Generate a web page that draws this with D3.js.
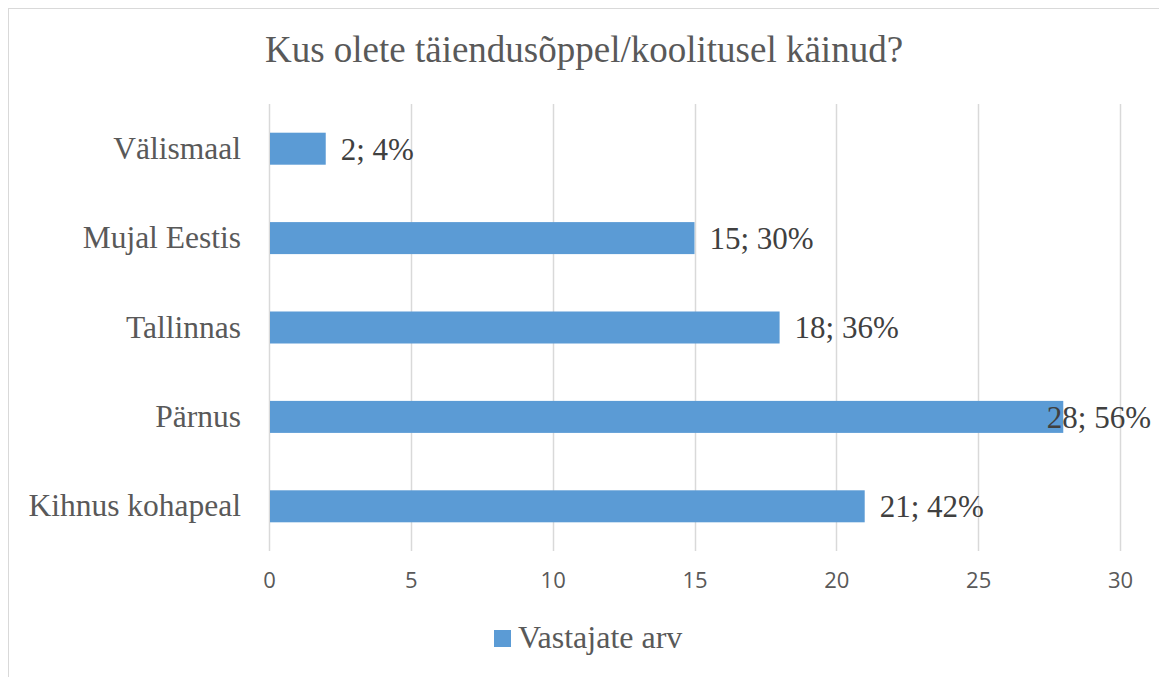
<!DOCTYPE html>
<html><head><meta charset="utf-8">
<script src="https://cdn.jsdelivr.net/npm/d3@7"></script>
<style>body{margin:0;background:#fff}svg{display:block}</style>
</head><body>
<svg id="c" width="1159" height="677"></svg>
<script>
const categories = ["Välismaal","Mujal Eestis","Tallinnas","Pärnus","Kihnus kohapeal"];
const values = [2,15,18,28,21];
const percents = ["4%","30%","36%","56%","42%"];
const tickValues = [0,5,10,15,20,25,30];
const seriesName = "Vastajate arv";
const title = "Kus olete täiendusõppel/koolitusel käinud?";

const svg = d3.select("#c");
const serif = "'Liberation Serif','Times New Roman',serif";
const sans = "'Open Sans','Liberation Sans',sans-serif";
svg.append("rect").attr("x",8.5).attr("y",8.5).attr("width",1200).attr("height",700)
  .attr("fill","#fff").attr("stroke","#d9d9d9").attr("stroke-width",1);

const L=269, R=1120, T=104, B=551;
const x = d3.scaleLinear().domain([0,30]).range([L,R]);
const y = d3.scaleBand().domain(categories).range([T,B]).paddingInner(0.642).paddingOuter(0.321);

svg.append("text").attr("x",584).attr("y",62).attr("text-anchor","middle")
  .attr("font-family",serif).attr("font-size",37).attr("fill","#595959").text(title);

// gridlines
svg.append("g").selectAll("line").data(tickValues).join("line")
  .attr("x1",d=>Math.round(x(d))+0.5).attr("x2",d=>Math.round(x(d))+0.5)
  .attr("y1",T).attr("y2",B).attr("stroke","#d9d9d9").attr("stroke-width",1.5);

// x axis labels
const xa = svg.append("g").attr("transform",`translate(0,${B})`)
  .call(d3.axisBottom(x).tickValues(tickValues).tickSize(0).tickPadding(21));
xa.select(".domain").remove();
xa.selectAll("text").attr("font-family",sans).attr("font-size",22).attr("fill","#595959");

// y axis labels
const ya = svg.append("g").attr("transform",`translate(${L},0)`)
  .call(d3.axisLeft(y).tickSize(0).tickPadding(28));
ya.select(".domain").remove();
ya.selectAll("text").attr("font-family",serif).attr("font-size",31.5).attr("fill","#595959")
  .attr("dy","0.32em");

// bars
svg.append("g").selectAll("rect").data(values).join("rect")
  .attr("x",x(0)+1).attr("y",(d,i)=>y(categories[i]))
  .attr("width",d=>x(d)-x(0)-1).attr("height",y.bandwidth()).attr("fill","#5b9bd5");

// data labels
const lab = svg.append("g").selectAll("text").data(values).join("text")
  .attr("y",(d,i)=>y(categories[i])+y.bandwidth()/2)
  .attr("dy","0.35em")
  .attr("font-family",serif).attr("font-size",31).attr("fill","#404040")
  .text((d,i)=>`${d}; ${percents[i]}`);
lab.each(function(d){
  const w=this.getComputedTextLength();
  let px=x(d)+15;
  if(px+w>1151) px=1151-w;
  d3.select(this).attr("x",px);
});

// legend
const lg = svg.append("g");
lg.append("rect").attr("x",494).attr("y",630).attr("width",17).attr("height",17).attr("fill","#5b9bd5");
lg.append("text").attr("x",518).attr("y",648).attr("font-family",serif).attr("font-size",32)
  .attr("fill","#595959").text(seriesName);
</script>
</body></html>
